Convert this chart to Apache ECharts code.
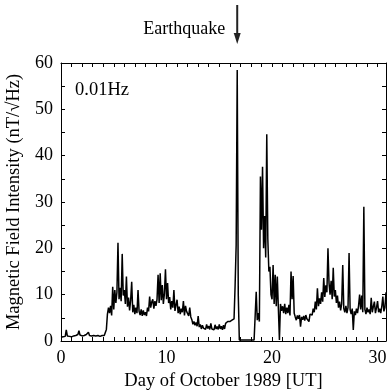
<!DOCTYPE html>
<html><head><meta charset="utf-8">
<script src="https://cdn.jsdelivr.net/npm/echarts@6/dist/echarts.min.js"></script>
<style>html,body{margin:0;padding:0;background:#fff}#c{width:392px;height:390px}</style>
</head><body><div id="c"></div>
<script>
// ---- data ----
const startDay = 0;
const sampleStepDays = 0.1;
// Magnetic field intensity (nT/sqrt(Hz)) at 0.01 Hz, one value per 0.1 day, rows = days
const intensity = [
  0.8,1.0,0.9,1.2,1.0,2.4,1.1,0.9,1.0,1.1,
  0.9,1.0,1.1,0.9,1.2,1.0,1.4,2.2,1.3,1.0,
  1.1,0.9,1.2,1.0,1.4,1.1,1.9,1.2,1.0,1.1,
  1.0,1.2,0.9,1.1,1.0,1.2,1.1,1.0,1.3,1.2,
  1.1,1.2,1.4,2.5,5.8,7.2,6.0,7.6,5.5,11.7,
  6.8,11.0,8.2,10.5,21.2,9.0,11.5,8.6,18.8,9.8,
  11.0,8.0,13.9,7.4,9.4,6.6,8.8,12.8,6.2,7.8,
  5.8,7.2,6.0,11.0,6.4,5.6,6.8,5.4,6.6,5.6,
  6.2,5.4,7.2,6.4,9.6,7.2,8.4,9.0,7.0,8.6,
  7.6,9.0,14.3,8.2,14.6,8.8,12.1,8.0,10.2,15.5,
  9.0,12.5,8.2,9.5,6.8,8.6,7.2,11.0,6.5,7.8,
  8.9,6.0,7.4,5.8,7.0,6.2,8.6,5.5,7.6,6.4,
  6.8,5.4,7.2,5.2,4.6,3.6,4.2,3.4,4.0,3.2,
  5.4,3.0,3.6,2.6,3.4,2.8,3.2,2.5,3.6,2.7,
  3.2,2.5,3.8,2.6,3.0,2.4,3.5,2.6,3.1,2.5,
  3.6,2.6,3.2,2.4,3.4,2.6,3.8,3.6,4.2,3.9,
  4.2,4.0,4.5,4.3,4.8,12.0,20.7,58.5,10.0,0.2,
  0.2,0.2,0.2,0.2,0.2,0.2,0.2,0.2,0.2,0.2,
  0.2,0.2,0.2,0.2,0.2,10.6,4.5,6.0,4.2,35.5,
  24.0,37.6,20.0,27.0,18.0,44.6,22.0,15.0,16.0,10.0,
  9.0,16.4,8.0,14.3,7.5,13.9,7.0,0.2,8.0,6.5,
  7.5,6.0,8.0,5.8,7.2,6.0,7.8,5.5,15.0,9.0,
  14.0,6.0,5.2,4.5,5.5,4.8,5.6,3.1,5.2,4.6,
  5.4,4.4,5.6,4.8,5.2,4.2,5.8,6.0,5.6,7.0,
  6.2,8.5,6.8,11.4,7.5,9.2,8.0,10.5,8.5,13.6,
  9.5,12.0,10.5,20.0,12.5,10.0,13.0,9.0,15.8,9.6,
  11.0,8.2,9.8,7.2,8.5,6.6,8.0,16.4,7.0,6.2,
  7.6,6.0,7.2,19.0,6.8,5.8,7.0,2.4,6.4,5.6,
  7.0,6.0,7.6,10.0,6.8,9.8,6.2,29.0,6.8,5.8,
  7.2,6.2,6.8,5.8,9.3,6.2,7.4,8.5,6.0,7.2,
  8.6,6.2,7.0,6.0,7.4,9.6,6.4,7.2,10.5
];
const xLabelDays = [0, 10, 20, 30];
const yLabelValues = [0, 10, 20, 30, 40, 50, 60];
const earthquakeDay = 16.7;
const earthquakeText = 'Earthquake';
const bandText = '0.01Hz';
const xName = 'Day of October 1989 [UT]';
const yName = 'Magnetic Field Intensity (nT/\u221AHz)';

// ---- chart ----
const FONT = '"Liberation Serif", "Times New Roman", serif';
const W = 392, H = 390;
const G = {left: 61, right: 6, top: 63, bottom: 49, containLabel: false, outerBoundsMode: 'none'};
const plotW = W - G.left - G.right, plotH = H - G.top - G.bottom;
const seriesData = intensity.map((v, i) => [startDay + i * sampleStepDays, v]);
const chart = echarts.init(document.getElementById('c'), null, {renderer: 'canvas'});

const X_RANGE = {min: 0, max: 30.8, interval: 1};
const Y_RANGE = {min: 0, max: 60, interval: 5};

function lineOn(show) { return {show: show, onZero: false, lineStyle: {color: '#000', width: 1}}; }
function tickOn(show) { return {show: show, length: 4, lineStyle: {color: '#000', width: 1}}; }
function noLabel() { return {show: false}; }

// main labelled axes (lines, labels, no ticks)
const xMain = Object.assign({type: 'value', position: 'bottom'}, X_RANGE, {
  axisLine: lineOn(true), axisTick: tickOn(false), splitLine: {show: false},
  axisLabel: {color: '#000', fontFamily: FONT, fontSize: 18, margin: 8,
    formatter: v => (xLabelDays.indexOf(v) >= 0 ? String(v) : '')},
  name: xName, nameLocation: 'middle', nameGap: 31,
  nameTextStyle: {color: '#000', fontFamily: FONT, fontSize: 18.5}
});
const xTopLine = Object.assign({type: 'value', position: 'top'}, X_RANGE, {
  axisLine: lineOn(true), axisTick: tickOn(false), splitLine: {show: false}, axisLabel: noLabel()
});
// tick-only axes flipped across the plot so their outward ticks point inward
const xTicksAtBottom = Object.assign({type: 'value', position: 'top', offset: -plotH}, X_RANGE, {
  axisLine: lineOn(false), axisTick: tickOn(true), splitLine: {show: false}, axisLabel: noLabel()
});
const xTicksAtTop = Object.assign({type: 'value', position: 'bottom', offset: -plotH}, X_RANGE, {
  axisLine: lineOn(false), axisTick: tickOn(true), splitLine: {show: false}, axisLabel: noLabel()
});

const yMain = Object.assign({type: 'value', position: 'left'}, Y_RANGE, {
  axisLine: lineOn(true), axisTick: tickOn(false), splitLine: {show: false},
  axisLabel: {color: '#000', fontFamily: FONT, fontSize: 18, margin: 8,
    formatter: v => (yLabelValues.indexOf(v) >= 0 ? String(v) : '')},
  name: yName, nameLocation: 'middle', nameGap: 37,
  nameTextStyle: {color: '#000', fontFamily: FONT, fontSize: 18.5}
});
const yRightLine = Object.assign({type: 'value', position: 'right'}, Y_RANGE, {
  axisLine: lineOn(true), axisTick: tickOn(false), splitLine: {show: false}, axisLabel: noLabel()
});
const yTicksAtLeft = Object.assign({type: 'value', position: 'right', offset: -plotW}, Y_RANGE, {
  axisLine: lineOn(false), axisTick: tickOn(true), splitLine: {show: false}, axisLabel: noLabel()
});
const yTicksAtRight = Object.assign({type: 'value', position: 'left', offset: -plotW}, Y_RANGE, {
  axisLine: lineOn(false), axisTick: tickOn(true), splitLine: {show: false}, axisLabel: noLabel()
});

chart.setOption({
  animation: false,
  backgroundColor: '#fff',
  grid: G,
  xAxis: [xMain, xTopLine, xTicksAtBottom, xTicksAtTop],
  yAxis: [yMain, yRightLine, yTicksAtLeft, yTicksAtRight],
  series: [{
    type: 'line', xAxisIndex: 0, yAxisIndex: 0, data: seriesData,
    showSymbol: false, symbol: 'none',
    lineStyle: {color: '#000', width: 1.5}
  }]
});

const ax = chart.convertToPixel({xAxisIndex: 0}, earthquakeDay);
chart.setOption({
  graphic: [
    {type: 'line', shape: {x1: ax, y1: 5, x2: ax, y2: 36}, style: {stroke: '#222', lineWidth: 2}},
    {type: 'polygon', shape: {points: [[ax - 3.5, 33], [ax + 3.5, 33], [ax, 44]]}, style: {fill: '#222'}},
    {type: 'text', x: ax - 12, y: 29, style: {text: earthquakeText, fill: '#000', font: '18px ' + FONT, align: 'right', verticalAlign: 'middle'}},
    {type: 'text', x: 75, y: 90, style: {text: bandText, fill: '#000', font: '18.5px ' + FONT, align: 'left', verticalAlign: 'middle'}}
  ]
});
</script></body></html>
